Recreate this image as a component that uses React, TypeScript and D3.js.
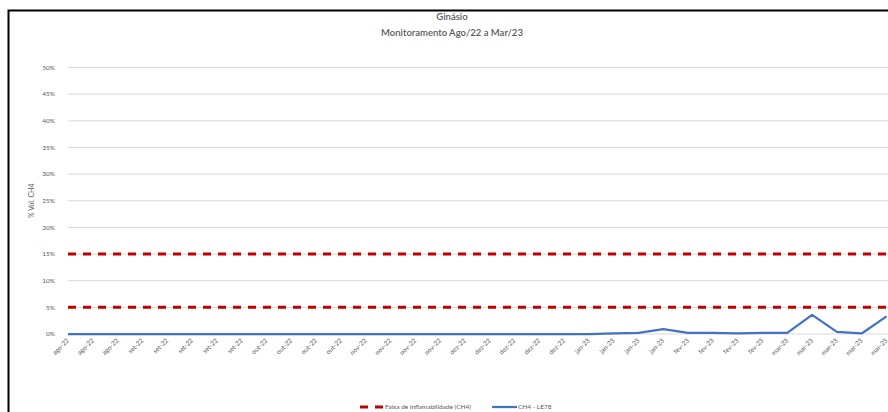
import React from "react";
import * as d3 from "d3";

const categories: string[] = [
  "ago-22", "ago-22", "ago-22",
  "set-22", "set-22", "set-22", "set-22", "set-22",
  "out-22", "out-22", "out-22", "out-22",
  "nov-22", "nov-22", "nov-22", "nov-22",
  "dez-22", "dez-22", "dez-22", "dez-22", "dez-22",
  "jan-23", "jan-23", "jan-23", "jan-23",
  "fev-23", "fev-23", "fev-23", "fev-23",
  "mar-23", "mar-23", "mar-23", "mar-23", "mar-23",
];

const ch4Values: number[] = [
  0, 0, 0, 0, 0, 0, 0, 0, 0, 0, 0, 0, 0, 0, 0, 0, 0, 0, 0, 0, 0, 0,
  0.1, 0.2, 0.9, 0.2, 0.2, 0.1, 0.2, 0.2, 3.6, 0.4, 0.1, 3.3,
];

const lowerLimit = 5;
const upperLimit = 15;

const yTicks: number[] = [0, 5, 10, 15, 20, 25, 30, 35, 40, 45, 50];

const titleLines: string[] = ["Ginásio", "Monitoramento Ago/22 a Mar/23"];
const yAxisTitle = "% Vol. CH4";
const legendLabels: string[] = ["Faixa de inflamabilidade (CH4)", "CH4 - LE78"];

export default function App() {
  const W = 888;
  const H = 412;
  const x = d3.scaleLinear().domain([0, categories.length - 1]).range([68, 886.5]);
  const y = d3.scaleLinear().domain([0, 50]).range([334, 67.5]);
  const line = d3
    .line<number>()
    .x((_, i) => x(i))
    .y((d) => y(d));

  const font = "Lato, 'Open Sans', sans-serif";
  const gray = "#595959";
  const red = "#C00000";
  const blue = "#4472C4";

  return (
    <svg
      width={W}
      height={H}
      style={{ position: "absolute", left: 0, top: 0, background: "#fff" }}
    >
      <rect x={0} y={0} width={W} height={H} fill="#fff" />
      <rect x={8.5} y={10.5} width={W + 20} height={H + 20} fill="#fff" stroke="#000" strokeWidth={2} />

      {titleLines.map((t, i) => (
        <text
          key={i}
          x={452}
          y={20 + i * 16}
          textAnchor="middle"
          fontFamily={font}
          fontSize={9.5}
          fontWeight={600}
          fill={gray}
        >
          {t}
        </text>
      ))}

      {yTicks.map((t) => (
        <g key={t}>
          <line x1={68} x2={W + 10} y1={y(t)} y2={y(t)} stroke="#D9D9D9" strokeWidth={1} />
          <text
            x={55}
            y={y(t)}
            dy="0.35em"
            textAnchor="end"
            fontFamily={font}
            fontSize={6.5}
            fill={gray}
          >
            {t}%
          </text>
        </g>
      ))}

      <text
        transform={`translate(34, ${y(25)}) rotate(-90)`}
        textAnchor="middle"
        fontFamily={font}
        fontSize={7}
        fill={gray}
      >
        {yAxisTitle}
      </text>

      {categories.map((c, i) => (
        <text
          key={i}
          transform={`translate(${x(i) + 1.5}, ${341}) rotate(-45)`}
          textAnchor="end"
          fontFamily={font}
          fontSize={6.5}
          fill={gray}
        >
          {c}
        </text>
      ))}

      {[upperLimit, lowerLimit].map((v) => (
        <line
          key={v}
          x1={68}
          x2={W + 10}
          y1={y(v)}
          y2={y(v)}
          stroke={red}
          strokeWidth={3}
          strokeDasharray="8 7"
        />
      ))}

      <path d={line(ch4Values) || ""} fill="none" stroke={blue} strokeWidth={2.25} strokeLinejoin="round" />

      <g>
        <line x1={360} x2={383} y1={407} y2={407} stroke={red} strokeWidth={3} strokeDasharray="8 7" />
        <text x={385} y={407} dy="0.35em" fontFamily={font} fontSize={6.5} fill={gray}>
          {legendLabels[0]}
        </text>
        <line x1={492} x2={517} y1={407} y2={407} stroke={blue} strokeWidth={2.25} />
        <text x={518} y={407} dy="0.35em" fontFamily={font} fontSize={6.5} fill={gray}>
          {legendLabels[1]}
        </text>
      </g>
    </svg>
  );
}
